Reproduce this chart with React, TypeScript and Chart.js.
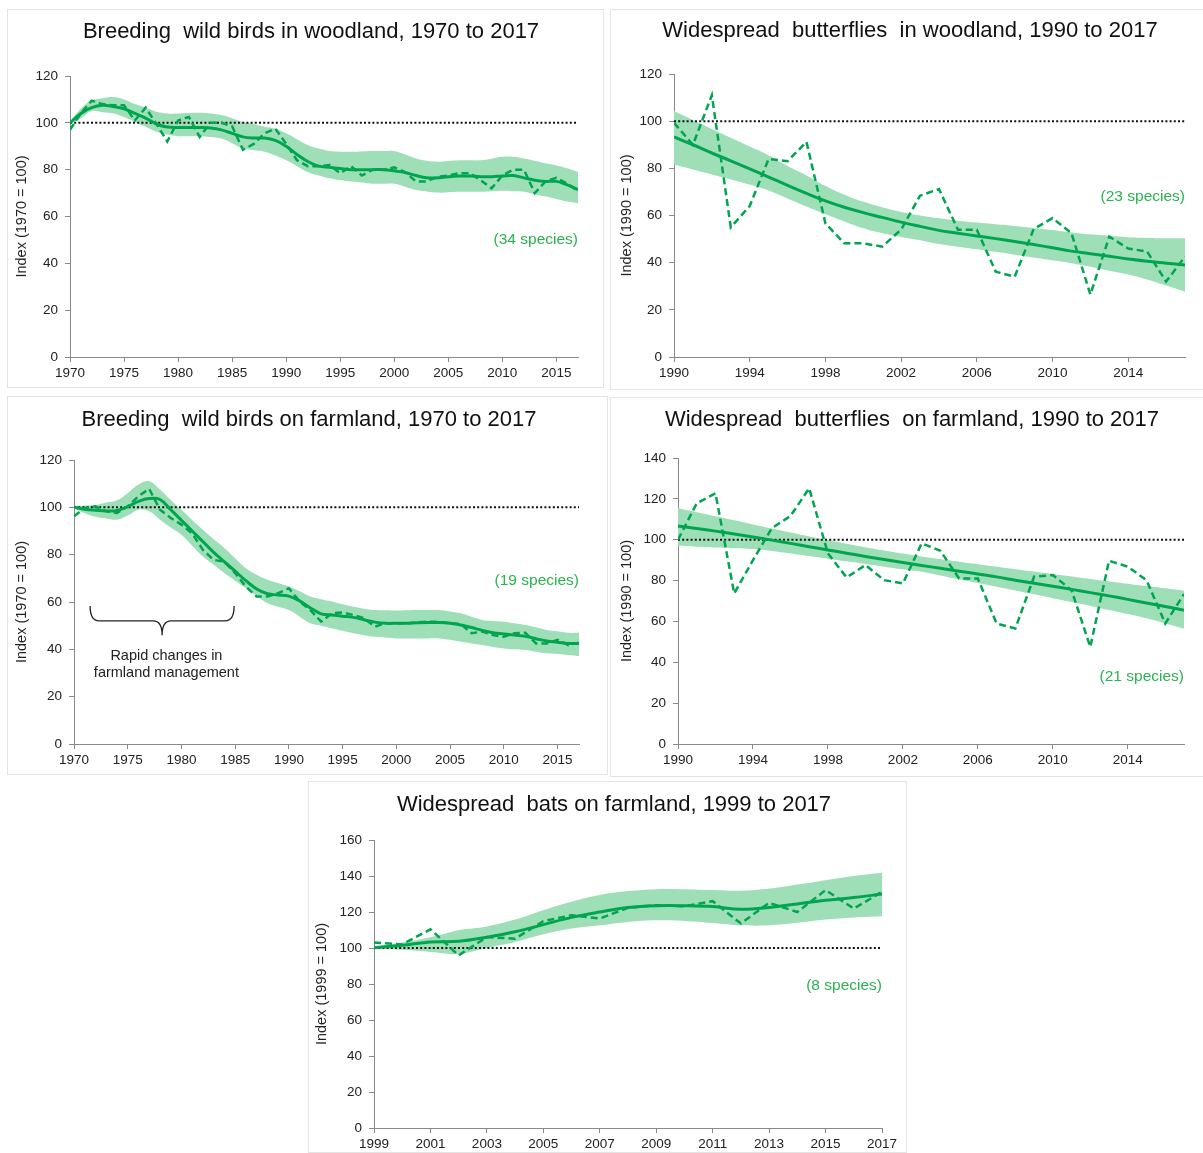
import React, { useEffect, useRef } from 'react';
import { Chart, registerables } from 'chart.js';

Chart.register(...registerables);

const FONT = '"Liberation Sans", Arial, sans-serif';
const LINE = '#00a550';
const BAND = '#9fdfb7';
const SPECIES = '#2bb34f';

const yearRange = (a: number, b: number) => {
  const out: number[] = [];
  for (let y = a; y <= b; y++) out.push(y);
  return out;
};

// ---------- Breeding wild birds in woodland ----------
const woodBirdYears = yearRange(1970, 2017);
const woodBirdAnnual = [
  97, 104, 109.5, 108, 107.5, 107.5, 101, 106.5, 99.5, 92,
  101, 102.5, 94, 100, 100, 98.5, 88.5, 91, 95.5, 97.5,
  91, 84, 81.5, 81.5, 82, 78.5, 81.5, 77.5, 80, 80,
  81, 79, 75, 75, 77, 77.5, 78.5, 78.5, 75.5, 72,
  77.5, 80, 80, 70, 75, 76.5, 74, 71,
];
const woodBirdSmooth = [
  100, 104, 106.5, 107.5, 107, 106, 104, 102, 99.5, 98.2,
  98, 98, 98, 97.8, 97, 95.5, 94, 93.5, 93.5, 92.5,
  90, 86.5, 83.5, 81.5, 81, 80.5, 80, 80, 80, 80,
  79.5, 78.8, 77.5, 76.5, 76.5, 77, 77.3, 77.3, 77, 77,
  77.3, 77.5, 76.5, 75.5, 75, 75, 73.5, 71.5,
];
const woodBirdUpper = [
  100.5, 106, 109.5, 110.5, 111, 110, 108, 106.5, 104.7, 104,
  104, 104.2, 104.3, 104, 103.3, 102, 100.4, 99.5, 98.3, 97.5,
  95.5, 93, 90.5, 89, 88, 87.7, 87.7, 87.8, 88, 88,
  88, 86.5, 84.8, 83.8, 83.4, 83.7, 84, 84, 84, 84.7,
  85.5, 85.5, 84.8, 83.8, 82.7, 81.8, 80.6, 79,
];
const woodBirdLower = [
  99.5, 102, 105, 104.5, 104, 102.5, 100.4, 98.3, 96.2, 95,
  94.3, 94.3, 94.3, 94, 93.3, 91.3, 89, 88.3, 87.7, 86,
  84, 81.5, 79, 77.5, 76.3, 75.5, 75, 74.5, 74, 74,
  74, 72.7, 71.3, 70.7, 70.2, 70.4, 70.6, 70.6, 70.6, 70.8,
  71, 70.8, 70.6, 69.5, 68.5, 67.5, 66.4, 65.7,
];
const woodBirdTicks = [1970, 1975, 1980, 1985, 1990, 1995, 2000, 2005, 2010, 2015];

// ---------- Widespread butterflies in woodland ----------
const woodButterflyYears = yearRange(1990, 2017);
const woodButterflyAnnual = [
  99.3, 90, 111, 55, 64, 84, 83, 91.2, 56.7, 48.2,
  48.2, 46.8, 54, 68.4, 71.2, 54, 54, 36.2, 34, 54.2,
  58.9, 52.5, 26.5, 51, 46, 44.7, 32, 42.5,
];
const woodButterflySmooth = [
  93.3, 90, 86.5, 83.2, 79.8, 76.3, 72.8, 69.4, 66.2, 63.5,
  61.2, 59.2, 57.2, 55.4, 53.7, 52.5, 51.3, 50.2, 49, 47.7,
  46.3, 44.9, 43.8, 42.7, 41.6, 40.6, 39.8, 39,
];
const woodButterflyUpper = [
  104.3, 100.5, 96.7, 93, 89.3, 85.6, 81, 77, 72.5, 68.8,
  65.8, 63.5, 61.5, 60, 58.8, 57.8, 57, 56.3, 55.6, 54.7,
  53.8, 52.8, 52, 51.4, 50.8, 50.5, 50.4, 50.4,
];
const woodButterflyLower = [
  81.6, 79.5, 77.4, 75.3, 73.1, 70.6, 67.2, 63.8, 60.5, 57.5,
  54.6, 52.5, 50.9, 49.5, 47.9, 46.8, 45.7, 44.6, 43.4, 42.2,
  41, 39.8, 38.3, 36.6, 35, 32.9, 30.3, 27.7,
];
const butterflyTicks = [1990, 1994, 1998, 2002, 2006, 2010, 2014];

// ---------- Breeding wild birds on farmland ----------
const farmBirdYears = yearRange(1970, 2017);
const farmBirdAnnual = [
  96.2, 99.7, 100.4, 98.3, 97.6, 100.4, 104.7, 107.8, 99, 95.5,
  92.7, 89, 82, 77.8, 77, 72.2, 66.5, 62.3, 62.3, 63.7,
  65.8, 60.2, 56.6, 51.7, 55.2, 55.6, 54.5, 53.1, 49.6, 51,
  51, 51, 51.4, 51.7, 51.7, 51, 50.7, 46.8, 47.5, 46,
  45.3, 46.8, 47, 42.5, 42.5, 44, 41.8, 42.8,
];
const farmBirdSmooth = [
  100, 99.2, 98.8, 98.5, 98.7, 100.3, 102.5, 103.7, 103.3, 99,
  94.5, 90, 85.5, 81, 77, 73, 69, 65.5, 63.5, 63,
  62.5, 60.5, 57.5, 55, 54.5, 54, 53.5, 52.5, 51.5, 51,
  51, 51, 51.2, 51.3, 51.3, 51, 50.3, 49.2, 48, 47,
  46.5, 46, 45.5, 44.5, 43.5, 43, 42.5, 42.5,
];
const farmBirdUpper = [
  100.5, 100.8, 101, 102, 103, 106, 109.6, 111, 107.5, 103,
  99, 94.7, 90.5, 86.5, 82.8, 78.5, 74.3, 71.5, 69.4, 68,
  66.5, 64.5, 62.3, 61.2, 60.2, 59, 58, 57.2, 56.6, 56.5,
  56.4, 56.5, 56.6, 56.6, 56.6, 56, 55.2, 53.8, 52.4, 52,
  51.7, 51, 50.3, 49.3, 48.2, 47.6, 47, 47,
];
const farmBirdLower = [
  99.5, 97.5, 96, 95.3, 94.8, 96.5, 99, 98.3, 94.8, 91.5,
  88.4, 83.8, 79.2, 75.7, 72.2, 69, 65.8, 62.5, 59.5, 58,
  56.6, 53.8, 51, 50, 48.9, 47.8, 46.8, 46, 45.3, 45,
  44.6, 44.6, 44.6, 44.6, 44.6, 44, 43.2, 42.5, 41.8, 41,
  40.4, 40, 39.7, 39, 38.3, 38, 37.6, 37.1,
];
const farmBirdTicks = [1970, 1975, 1980, 1985, 1990, 1995, 2000, 2005, 2010, 2015];

// ---------- Widespread butterflies on farmland ----------
const farmButterflyYears = yearRange(1990, 2017);
const farmButterflyAnnual = [
  100, 117.8, 122.7, 73.7, 90, 105.6, 111.6, 125.2, 93.3, 81.5,
  87.6, 80.2, 78.6, 98.2, 94.6, 81, 81, 59, 56.5, 81.9,
  82.7, 75.3, 47.5, 89.7, 86.8, 80.2, 59, 73.4,
];
const farmButterflySmooth = [
  106.7, 105.5, 104.2, 102.8, 101.3, 99.8, 98.2, 96.6, 95, 93.4,
  91.8, 90.3, 88.8, 87.4, 86, 84.6, 83.2, 81.8, 80.2, 78.7,
  77.2, 75.7, 74.1, 72.5, 70.8, 69, 67.3, 65.5,
];
const farmButterflyUpper = [
  115.4, 113.5, 111.5, 109.5, 107.5, 105.5, 103.5, 101.6, 99.8, 98,
  96.3, 94.7, 93.2, 91.8, 90.5, 89.2, 88, 86.8, 85.6, 84.4,
  83.2, 82, 80.8, 79.6, 78.5, 77.3, 76.2, 75,
];
const farmButterflyLower = [
  97, 96.6, 96.2, 95.8, 95.4, 94.5, 93.3, 92, 90.7, 89.4,
  88.1, 86.8, 85.5, 84.3, 82.5, 80.6, 78.8, 77, 75.2, 73.3,
  71.4, 69.5, 67.6, 65.6, 63.6, 61.5, 59, 56.5,
];

// ---------- Widespread bats on farmland ----------
const batYears = yearRange(1999, 2017);
const batAnnual = [
  103, 102, 110.4, 95.9, 106.1, 105.2, 114.9, 118.2, 116.4, 122.3,
  123.8, 123.2, 126, 113.6, 125.1, 120, 132.2, 121.9, 131.2,
];
const batSmooth = [
  100.2, 101.5, 103.3, 103.7, 106, 109, 113, 117, 120, 122.5,
  123.5, 123.5, 123, 121.5, 122.5, 124.5, 126.5, 128, 130,
];
const batUpper = [
  100.5, 103, 106, 109.9, 112, 115.8, 121, 125.7, 129.4, 131.6,
  132.7, 132.7, 132.2, 131.8, 133, 135.3, 137.7, 140, 141.8,
];
const batLower = [
  99.5, 99, 97.8, 96.8, 100, 103.3, 107.6, 110.8, 112.6, 114.5,
  115.4, 115, 113.9, 112.6, 112.6, 114, 115.8, 117, 117.7,
];
const batTicks = [1999, 2001, 2003, 2005, 2007, 2009, 2011, 2013, 2015, 2017];

type Panel = {
  id: string;
  box: { x: number; y: number; w: number; h: number; rightBorder: boolean };
  plot: { l: number; r: number; t: number; b: number };
  title: string;
  titleX: number;
  titleY: number;
  yTitle: string;
  yTitleX: number;
  years: number[];
  annual: number[];
  smooth: number[];
  upper: number[];
  lower: number[];
  xMin: number;
  xMax: number;
  xTicks: number[];
  yMax: number;
  species: string;
  speciesValue: number;
  brace?: {
    x1: number; x2: number; xc: number; yTop: number; yMid: number; yTip: number;
    lines: string[]; textX: number; textY: number[];
  };
};

const panels: Panel[] = [
  {
    id: 'p1',
    box: { x: 7, y: 9, w: 597, h: 379, rightBorder: true },
    plot: { l: 70, r: 578, t: 76, b: 357 },
    title: 'Breeding  wild birds in woodland, 1970 to 2017',
    titleX: 311, titleY: 32,
    yTitle: 'Index (1970 = 100)', yTitleX: 22,
    years: woodBirdYears, annual: woodBirdAnnual, smooth: woodBirdSmooth,
    upper: woodBirdUpper, lower: woodBirdLower,
    xMin: 1970, xMax: 2017, xTicks: woodBirdTicks, yMax: 120,
    species: '(34 species)', speciesValue: 50,
  },
  {
    id: 'p2',
    box: { x: 610, y: 9, w: 600, h: 381, rightBorder: false },
    plot: { l: 674, r: 1185, t: 74, b: 357 },
    title: 'Widespread  butterflies  in woodland, 1990 to 2017',
    titleX: 910, titleY: 31,
    yTitle: 'Index (1990 = 100)', yTitleX: 627,
    years: woodButterflyYears, annual: woodButterflyAnnual, smooth: woodButterflySmooth,
    upper: woodButterflyUpper, lower: woodButterflyLower,
    xMin: 1990, xMax: 2017, xTicks: butterflyTicks, yMax: 120,
    species: '(23 species)', speciesValue: 68,
  },
  {
    id: 'p3',
    box: { x: 7, y: 396, w: 601, h: 379, rightBorder: true },
    plot: { l: 74, r: 579, t: 460, b: 744 },
    title: 'Breeding  wild birds on farmland, 1970 to 2017',
    titleX: 309, titleY: 420,
    yTitle: 'Index (1970 = 100)', yTitleX: 22,
    years: farmBirdYears, annual: farmBirdAnnual, smooth: farmBirdSmooth,
    upper: farmBirdUpper, lower: farmBirdLower,
    xMin: 1970, xMax: 2017, xTicks: farmBirdTicks, yMax: 120,
    species: '(19 species)', speciesValue: 69,
    brace: {
      x1: 1971.5, x2: 1984.9, xc: 1978.2, yTop: 58.3, yMid: 52, yTip: 46,
      lines: ['Rapid changes in', 'farmland management'], textX: 1978.6, textY: [37.2, 30],
    },
  },
  {
    id: 'p4',
    box: { x: 610, y: 397, w: 600, h: 380, rightBorder: false },
    plot: { l: 678, r: 1184, t: 458, b: 744 },
    title: 'Widespread  butterflies  on farmland, 1990 to 2017',
    titleX: 912, titleY: 420,
    yTitle: 'Index (1990 = 100)', yTitleX: 627,
    years: farmButterflyYears, annual: farmButterflyAnnual, smooth: farmButterflySmooth,
    upper: farmButterflyUpper, lower: farmButterflyLower,
    xMin: 1990, xMax: 2017, xTicks: butterflyTicks, yMax: 140,
    species: '(21 species)', speciesValue: 33,
  },
  {
    id: 'p5',
    box: { x: 308, y: 781, w: 599, h: 372, rightBorder: true },
    plot: { l: 374, r: 882, t: 840, b: 1128 },
    title: 'Widespread  bats on farmland, 1999 to 2017',
    titleX: 614, titleY: 805,
    yTitle: 'Index (1999 = 100)', yTitleX: 322,
    years: batYears, annual: batAnnual, smooth: batSmooth,
    upper: batUpper, lower: batLower,
    xMin: 1999, xMax: 2017, xTicks: batTicks, yMax: 160,
    species: '(8 species)', speciesValue: 79,
  },
];

const decorPlugin = {
  id: 'decor',
  afterDraw(chart: any, _args: any, opts: any) {
    const p: Panel = opts.panel;
    if (!p) return;
    const ctx = chart.ctx;
    const xs = chart.scales.x;
    const ys = chart.scales.y;
    ctx.save();
    // title
    ctx.fillStyle = '#111';
    ctx.font = `22px ${FONT}`;
    ctx.textAlign = 'center';
    ctx.textBaseline = 'middle';
    ctx.fillText(p.title, p.titleX - p.box.x, p.titleY - p.box.y);
    // y title
    ctx.save();
    ctx.translate(p.yTitleX - p.box.x, (chart.chartArea.top + chart.chartArea.bottom) / 2);
    ctx.rotate(-Math.PI / 2);
    ctx.font = `14.5px ${FONT}`;
    ctx.fillStyle = '#222';
    ctx.fillText(p.yTitle, 0, 0);
    ctx.restore();
    // species
    ctx.font = `15.5px ${FONT}`;
    ctx.fillStyle = SPECIES;
    ctx.textAlign = 'right';
    ctx.fillText(p.species, chart.chartArea.right, ys.getPixelForValue(p.speciesValue));
    // brace
    if (p.brace) {
      const b = p.brace;
      const x1 = xs.getPixelForValue(b.x1);
      const x2 = xs.getPixelForValue(b.x2);
      const xc = xs.getPixelForValue(b.xc);
      const yT = ys.getPixelForValue(b.yTop);
      const yM = ys.getPixelForValue(b.yMid);
      const yP = ys.getPixelForValue(b.yTip);
      const r = 9;
      ctx.beginPath();
      ctx.moveTo(x1, yT);
      ctx.quadraticCurveTo(x1, yM, x1 + r, yM);
      ctx.lineTo(xc - r, yM);
      ctx.quadraticCurveTo(xc, yM, xc, yP);
      ctx.quadraticCurveTo(xc, yM, xc + r, yM);
      ctx.lineTo(x2 - r, yM);
      ctx.quadraticCurveTo(x2, yM, x2, yT);
      ctx.strokeStyle = '#222';
      ctx.lineWidth = 1.3;
      ctx.stroke();
      ctx.font = `14.5px ${FONT}`;
      ctx.fillStyle = '#222';
      ctx.textAlign = 'center';
      b.lines.forEach((t, i) => {
        ctx.fillText(t, xs.getPixelForValue(b.textX), ys.getPixelForValue(b.textY[i]));
      });
    }
    ctx.restore();
  },
};

function PanelChart({ p }: { p: Panel }) {
  const ref = useRef<HTMLCanvasElement | null>(null);
  useEffect(() => {
    if (!ref.current) return;
    const pts = (vals: number[]) => p.years.map((x, i) => ({ x, y: vals[i] }));
    const axisColor = '#8a8a8a';
    const chart = new Chart(ref.current, {
      type: 'line',
      data: {
        datasets: [
          {
            label: 'annual', data: pts(p.annual), borderColor: LINE, borderWidth: 2.5,
            borderDash: [7, 4], pointRadius: 0, tension: 0, fill: false, order: 0,
          },
          {
            label: 'smoothed', data: pts(p.smooth), borderColor: LINE, borderWidth: 3,
            pointRadius: 0, tension: 0.4, fill: false, order: 1,
          },
          {
            label: 'baseline', data: [{ x: p.xMin, y: 100 }, { x: p.xMax, y: 100 }],
            borderColor: '#111', borderWidth: 2, borderDash: [2, 2.2], pointRadius: 0,
            fill: false, order: 2,
          },
          {
            label: 'upper', data: pts(p.upper), borderColor: 'rgba(0,0,0,0)', borderWidth: 0,
            pointRadius: 0, tension: 0.4, fill: false, order: 3,
          },
          {
            label: 'lower', data: pts(p.lower), borderColor: 'rgba(0,0,0,0)', borderWidth: 0,
            backgroundColor: BAND, pointRadius: 0, tension: 0.4, fill: '-1', order: 4,
          },
        ] as any,
      },
      options: {
        animation: false,
        responsive: false,
        maintainAspectRatio: false,
        layout: {
          padding: {
            left: 0,
            top: p.plot.t - p.box.y,
            right: p.box.x + p.box.w - p.plot.r,
            bottom: 0,
          },
        },
        plugins: {
          legend: { display: false },
          tooltip: { enabled: false },
          filler: { drawTime: 'beforeDatasetsDraw' },
          decor: { panel: p },
        } as any,
        scales: {
          x: {
            type: 'linear',
            min: p.xMin,
            max: p.xMax,
            border: { color: axisColor, width: 1 },
            grid: { drawOnChartArea: false, drawTicks: true, tickLength: 5, color: axisColor },
            ticks: {
              color: '#222', font: { size: 13.5, family: FONT }, padding: 3,
              maxRotation: 0, autoSkip: false, callback: (v: any) => String(v),
            },
            afterBuildTicks: (s: any) => { s.ticks = p.xTicks.map((v) => ({ value: v })); },
            afterFit: (s: any) => { s.height = p.box.y + p.box.h - p.plot.b; },
          },
          y: {
            min: 0,
            max: p.yMax,
            border: { color: axisColor, width: 1 },
            grid: { drawOnChartArea: false, drawTicks: true, tickLength: 5, color: axisColor },
            ticks: {
              stepSize: 20, color: '#222', font: { size: 13.5, family: FONT }, padding: 7,
              callback: (v: any) => String(v),
            },
            afterFit: (s: any) => { s.width = p.plot.l - p.box.x; },
          },
        } as any,
      },
      plugins: [decorPlugin as any],
    });
    return () => chart.destroy();
  }, [p]);
  const b = p.box;
  return (
    <>
      <div
        style={{
          position: 'absolute', left: b.x, top: b.y, width: b.w, height: b.h,
          boxSizing: 'border-box', border: '1px solid #e4e4e4',
          borderRight: b.rightBorder ? '1px solid #e4e4e4' : 'none', background: '#fff',
        }}
      />
      <canvas
        ref={ref}
        width={b.w}
        height={b.h}
        style={{ position: 'absolute', left: b.x, top: b.y, width: b.w, height: b.h }}
      />
    </>
  );
}

export default function App() {
  return (
    <div style={{ position: 'absolute', left: 0, top: 0, width: 1203, height: 1153, overflow: 'hidden', background: '#fff' }}>
      {panels.map((p) => (
        <PanelChart key={p.id} p={p} />
      ))}
    </div>
  );
}
